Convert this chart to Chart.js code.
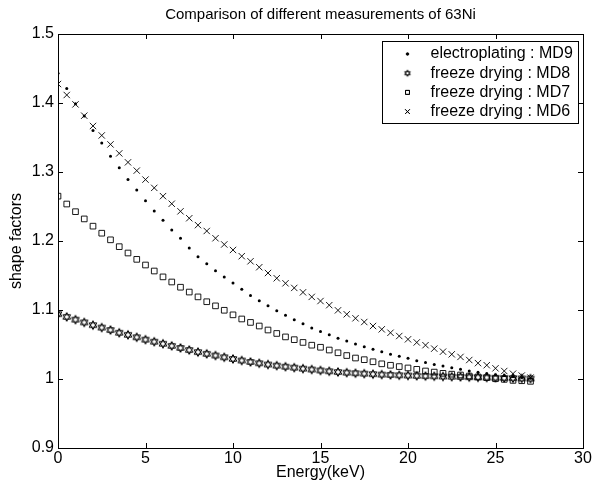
<!DOCTYPE html>
<html>
<head>
<meta charset="utf-8">
<title>Comparison of different measurements of 63Ni</title>
<script src="https://cdn.jsdelivr.net/npm/chart.js@4.4.1/dist/chart.umd.min.js"></script>
<style>
  html, body { margin: 0; padding: 0; background: #fff; }
  #wrap { width: 597px; height: 490px; }
</style>
</head>
<body>
<div id="wrap"><canvas id="shapeChart" width="597" height="490"></canvas></div>
<script>
// energies (keV), one point every 0.5 keV
const energy = [0, 0.5, 1, 1.5, 2, 2.5, 3, 3.5, 4, 4.5, 5, 5.5, 6, 6.5, 7, 7.5, 8, 8.5, 9, 9.5,
    10, 10.5, 11, 11.5, 12, 12.5, 13, 13.5, 14, 14.5, 15, 15.5, 16, 16.5, 17, 17.5, 18, 18.5, 19, 19.5,
    20, 20.5, 21, 21.5, 22, 22.5, 23, 23.5, 24, 24.5, 25, 25.5, 26, 26.5, 27];

// electroplating : MD9
const md9 = [1.443, 1.421, 1.399, 1.381, 1.360, 1.342, 1.323, 1.306, 1.289, 1.274,
    1.2585, 1.2435, 1.230, 1.216, 1.204, 1.190, 1.177, 1.167, 1.157, 1.148,
    1.139, 1.130, 1.121, 1.1135, 1.106, 1.099, 1.0925, 1.086, 1.080, 1.074,
    1.069, 1.064, 1.059, 1.055, 1.0507, 1.0468, 1.043, 1.0396, 1.036, 1.033,
    1.030, 1.0265, 1.024, 1.021, 1.0188, 1.0164, 1.014, 1.0116, 1.0097, 1.008,
    1.0063, 1.005, 1.0035, 1.002, 1.001];

// freeze drying : MD8
const md8 = [1.094, 1.090, 1.086, 1.082, 1.078, 1.0745, 1.071, 1.067, 1.064, 1.0605,
    1.057, 1.054, 1.051, 1.048, 1.045, 1.042, 1.039, 1.0365, 1.034, 1.0315,
    1.029, 1.0268, 1.0247, 1.0228, 1.021, 1.0193, 1.0178, 1.0164, 1.015, 1.0137,
    1.0124, 1.0112, 1.0101, 1.0092, 1.0084, 1.0077, 1.007, 1.0064, 1.0059, 1.0054,
    1.005, 1.0046, 1.0042, 1.0039, 1.0036, 1.0033, 1.003, 1.0027, 1.0024, 1.0021,
    1.0018, 1.0015, 1.0012, 1.0009, 1.0006];

// freeze drying : MD7
const md7 = [1.265, 1.2536, 1.2425, 1.232, 1.2215, 1.2113, 1.2017, 1.1918, 1.1826, 1.1734,
    1.1652, 1.1565, 1.148, 1.1406, 1.133, 1.126, 1.119, 1.112, 1.106, 1.0996,
    1.093, 1.087, 1.082, 1.0768, 1.071, 1.066, 1.061, 1.057, 1.053, 1.049,
    1.046, 1.042, 1.038, 1.034, 1.0304, 1.028, 1.025, 1.022, 1.0199, 1.018,
    1.016, 1.014, 1.0116, 1.010, 1.0082, 1.007, 1.0058, 1.0043, 1.003, 1.002,
    1.0004, 0.9995, 0.998, 0.9975, 0.9966];

// freeze drying : MD6
const md6 = [1.4275, 1.4116, 1.398, 1.3816, 1.3667, 1.353, 1.340, 1.327, 1.314, 1.302,
    1.289, 1.277, 1.265, 1.254, 1.243, 1.233, 1.223, 1.2145, 1.204, 1.195,
    1.187, 1.178, 1.1706, 1.162, 1.1536, 1.146, 1.1387, 1.132, 1.1256, 1.119,
    1.113, 1.107, 1.0995, 1.0938, 1.088, 1.0826, 1.0768, 1.072, 1.067, 1.0623,
    1.0575, 1.053, 1.049, 1.044, 1.0396, 1.0358, 1.032, 1.0275, 1.023, 1.020,
    1.0155, 1.0116, 1.0077, 1.005, 1.002];

const seriesLabels = ['electroplating : MD9', 'freeze drying : MD8', 'freeze drying : MD7', 'freeze drying : MD6'];
const xTicks = [0, 5, 10, 15, 20, 25, 30];
const yTicks = [0.9, 1, 1.1, 1.2, 1.3, 1.4, 1.5];

const FONT = "'Liberation Sans', Arial, Helvetica, sans-serif";

// six pointed star marker (two triangles)
function makeHexagram(r, lw) {
    let c = document.createElement('canvas');
    let s = Math.ceil(r * 2 + 3);
    c.width = s; c.height = s;
    let g = c.getContext('2d');
    g.strokeStyle = '#000';
    g.lineWidth = lw;
    let cx = s / 2, cy = s / 2;
    [-Math.PI / 2, Math.PI / 2].forEach(function(off) {
        g.beginPath();
        for (let k = 0; k < 3; k++) {
            let a = off + k * 2 * Math.PI / 3;
            let px = cx + r * Math.cos(a), py = cy + r * Math.sin(a);
            if (k === 0) g.moveTo(px, py); else g.lineTo(px, py);
        }
        g.closePath();
        g.stroke();
    });
    return c;
}

const hexBig = makeHexagram(4.4, 1);
const hexSmall = makeHexagram(3.2, 0.9);

function toPoints(ys) {
    return energy.map(function(x, i) { return { x: x, y: ys[i] }; });
}

const markers = [
    { pointStyle: 'circle', radius: 1.5, legendRadius: 1.3, fill: '#000', width: 0 },
    { pointStyle: hexBig, legendStyle: hexSmall, radius: 4, legendRadius: 3, fill: 'rgba(0,0,0,0)', width: 0.9 },
    { pointStyle: 'rect', radius: 4, legendRadius: 2.8, fill: 'rgba(0,0,0,0)', width: 0.9 },
    { pointStyle: 'crossRot', radius: 4.5, legendRadius: 3.2, fill: 'rgba(0,0,0,0)', width: 0.9 }
];

const allSeries = [md9, md8, md7, md6];

const datasets = allSeries.map(function(ys, i) {
    let m = markers[i];
    return {
        label: seriesLabels[i],
        data: toPoints(ys),
        showLine: false,
        pointStyle: m.pointStyle,
        pointRadius: m.radius,
        pointBackgroundColor: m.fill,
        pointBorderColor: '#000',
        pointBorderWidth: m.width
    };
});

// box around the axes with inward ticks on all four sides
const boxTicks = {
    id: 'boxTicks',
    afterDraw: function(chart) {
        let ctx = chart.ctx;
        let a = chart.chartArea;
        let xs = chart.scales.x, ys = chart.scales.y;
        let len = 5;
        ctx.save();
        ctx.strokeStyle = '#000';
        ctx.lineWidth = 1;
        ctx.beginPath();
        xTicks.forEach(function(v) {
            let px = Math.round(xs.getPixelForValue(v)) + 0.5;
            ctx.moveTo(px, a.bottom); ctx.lineTo(px, a.bottom - len);
            ctx.moveTo(px, a.top); ctx.lineTo(px, a.top + len);
        });
        yTicks.forEach(function(v) {
            let py = Math.round(ys.getPixelForValue(v)) + 0.5;
            ctx.moveTo(a.left, py); ctx.lineTo(a.left + len, py);
            ctx.moveTo(a.right, py); ctx.lineTo(a.right - len, py);
        });
        ctx.stroke();
        ctx.strokeRect(Math.round(a.left) + 0.5, Math.round(a.top) + 0.5,
            Math.round(a.right - a.left), Math.round(a.bottom - a.top));
        ctx.restore();
    }
};

// legend box in the upper right corner of the axes
const boxLegend = {
    id: 'boxLegend',
    afterDraw: function(chart) {
        let ctx = chart.ctx;
        let a = chart.chartArea;
        let w = 196, h = 82;
        let left = Math.round(a.right - 5 - w) + 0.5;
        let top = Math.round(a.top + 7) + 0.5;
        ctx.save();
        ctx.fillStyle = '#fff';
        ctx.fillRect(left, top, w, h);
        ctx.strokeStyle = '#000';
        ctx.lineWidth = 1;
        ctx.strokeRect(left, top, w, h);
        ctx.font = '16px ' + FONT;
        ctx.textBaseline = 'middle';
        ctx.textAlign = 'left';
        seriesLabels.forEach(function(label, i) {
            let m = markers[i];
            let cy = top + 12.5 + i * 19.2;
            ctx.fillStyle = m.fill;
            ctx.strokeStyle = '#000';
            ctx.lineWidth = m.width;
            Chart.helpers.drawPoint(ctx, {
                pointStyle: m.legendStyle || m.pointStyle,
                radius: m.legendRadius,
                borderWidth: m.width
            }, left + 25, cy);
            if (m.width > 0) ctx.stroke();
            ctx.fillStyle = '#000';
            ctx.fillText(label, left + 48, cy);
        });
        ctx.restore();
    }
};

let ctx = document.getElementById('shapeChart').getContext('2d');

let shapeChart = new Chart(ctx, {
    type: 'scatter',
    data: { datasets: datasets },
    plugins: [boxTicks, boxLegend],
    options: {
        responsive: false,
        animation: false,
        layout: { padding: { left: 0, right: 14, top: 0, bottom: 0 } },
        plugins: {
            legend: { display: false },
            tooltip: { enabled: false },
            title: {
                display: true,
                fullSize: false,
                text: 'Comparison of different measurements of 63Ni',
                color: '#000',
                font: { family: FONT, size: 15, weight: 'normal' },
                padding: { top: 6, bottom: 10 }
            }
        },
        scales: {
            x: {
                type: 'linear',
                min: 0,
                max: 30,
                afterBuildTicks: function(scale) { scale.ticks = xTicks.map(function(v) { return { value: v }; }); },
                afterFit: function(scale) { scale.height = 42; },
                grid: { display: true, drawOnChartArea: false, drawTicks: false },
                border: { display: false },
                ticks: { color: '#000', padding: 1, font: { family: FONT, size: 16 }, maxRotation: 0 },
                title: {
                    display: true,
                    text: 'Energy(keV)',
                    color: '#000',
                    font: { family: FONT, size: 16 },
                    padding: { top: 0, bottom: 8 }
                }
            },
            y: {
                type: 'linear',
                min: 0.9,
                max: 1.5,
                afterBuildTicks: function(scale) { scale.ticks = yTicks.map(function(v) { return { value: v }; }); },
                afterFit: function(scale) { scale.width = 58; },
                grid: { display: true, drawOnChartArea: false, drawTicks: false },
                border: { display: false },
                ticks: {
                    color: '#000',
                    padding: 4,
                    font: { family: FONT, size: 16 },
                    callback: function(v) { return String(Number(v.toFixed(2))); }
                },
                title: {
                    display: true,
                    text: 'shape factors',
                    color: '#000',
                    font: { family: FONT, size: 16 },
                    padding: { top: 7, bottom: 0 }
                }
            }
        }
    }
});
</script>
</body>
</html>
